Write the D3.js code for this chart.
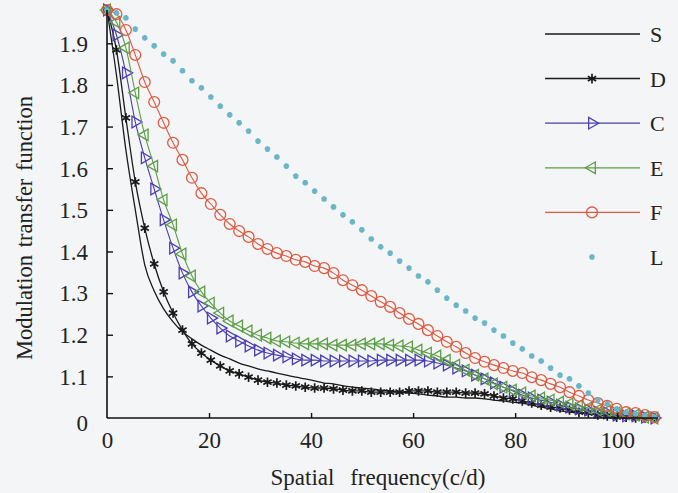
<!DOCTYPE html>
<html>
<head>
<meta charset="utf-8">
<script src="https://cdn.jsdelivr.net/npm/d3@7/dist/d3.min.js"></script>
<style>
  html, body { margin: 0; padding: 0; background: #f4f5f7; }
  svg { display: block; }
  text { font-family: "Liberation Serif", "Times New Roman", serif; fill: #222; }
</style>
</head>
<body>
<svg id="chart" width="678" height="493"></svg>
<script>
// ---- data ----
const freq = [0, 1.85, 3.7, 5.55, 7.4, 9.25, 11.1, 12.95, 14.8, 16.65,
  18.5, 20.35, 22.2, 24.05, 25.9, 27.75, 29.6, 31.45, 33.3, 35.15,
  37, 38.85, 40.7, 42.55, 44.4, 46.25, 48.1, 49.95, 51.8, 53.65,
  55.5, 57.35, 59.2, 61.05, 62.9, 64.75, 66.6, 68.45, 70.3, 72.15,
  74, 75.85, 77.7, 79.55, 81.4, 83.25, 85.1, 86.95, 88.8, 90.65,
  92.5, 94.35, 96.2, 98.05, 99.9, 101.75, 103.6, 105.45, 107.3];

const seriesS = [1.980,1.824,1.644,1.500,1.368,1.305,1.262,1.231,1.207,1.190,
  1.175,1.163,1.151,1.142,1.132,1.125,1.118,1.113,1.108,1.103,
  1.098,1.094,1.089,1.084,1.082,1.077,1.074,1.072,1.070,1.067,
  1.065,1.062,1.060,1.058,1.055,1.053,1.050,1.050,1.048,1.048,
  1.046,1.043,1.041,1.038,1.036,1.031,1.026,1.022,1.017,1.014,
  1.012,1.010,1.007,1.005,1.002,1.002,1.000,1.000,1.000];

const seriesD = [1.980,1.884,1.721,1.567,1.456,1.370,1.303,1.252,1.211,1.178,
  1.156,1.139,1.125,1.113,1.106,1.098,1.091,1.086,1.084,1.079,
  1.077,1.074,1.072,1.072,1.070,1.067,1.065,1.065,1.062,1.062,
  1.062,1.062,1.065,1.065,1.065,1.062,1.062,1.062,1.060,1.060,
  1.058,1.053,1.048,1.046,1.041,1.036,1.031,1.026,1.024,1.019,
  1.014,1.012,1.007,1.005,1.002,1.002,1.000,1.000,1.000];

const seriesC = [1.980,1.920,1.829,1.711,1.625,1.550,1.476,1.408,1.348,1.303,
  1.269,1.240,1.216,1.197,1.185,1.173,1.163,1.156,1.151,1.147,
  1.142,1.139,1.139,1.137,1.137,1.137,1.137,1.137,1.137,1.139,
  1.139,1.139,1.139,1.139,1.137,1.132,1.127,1.120,1.113,1.103,
  1.094,1.084,1.074,1.065,1.055,1.048,1.043,1.038,1.031,1.026,
  1.022,1.019,1.014,1.012,1.007,1.005,1.005,1.002,1.000];

const seriesE = [1.980,1.951,1.889,1.781,1.680,1.605,1.524,1.464,1.394,1.341,
  1.303,1.276,1.252,1.233,1.221,1.209,1.199,1.192,1.185,1.183,
  1.180,1.178,1.178,1.178,1.175,1.175,1.175,1.178,1.178,1.178,
  1.175,1.173,1.171,1.163,1.156,1.149,1.139,1.127,1.115,1.103,
  1.094,1.082,1.074,1.067,1.060,1.053,1.048,1.043,1.038,1.034,
  1.029,1.024,1.019,1.017,1.012,1.010,1.007,1.002,1.000];

const seriesF = [1.980,1.970,1.932,1.872,1.807,1.759,1.709,1.661,1.620,1.577,
  1.540,1.514,1.488,1.466,1.449,1.435,1.418,1.406,1.396,1.389,
  1.380,1.375,1.365,1.360,1.348,1.331,1.319,1.307,1.293,1.279,
  1.267,1.252,1.238,1.226,1.211,1.197,1.183,1.171,1.156,1.144,
  1.135,1.127,1.120,1.113,1.108,1.098,1.091,1.082,1.074,1.062,
  1.053,1.043,1.036,1.029,1.022,1.014,1.012,1.007,1.002];

const seriesL = [1.980,1.973,1.961,1.934,1.913,1.894,1.874,1.858,1.834,1.810,
  1.793,1.771,1.749,1.728,1.709,1.689,1.665,1.646,1.627,1.605,
  1.581,1.565,1.545,1.526,1.507,1.488,1.471,1.452,1.430,1.411,
  1.396,1.377,1.360,1.341,1.327,1.307,1.288,1.271,1.257,1.240,
  1.228,1.211,1.197,1.180,1.166,1.149,1.137,1.120,1.103,1.094,
  1.077,1.060,1.043,1.034,1.022,1.014,1.010,1.005,1.002];

const seriesNames = ["S", "D", "C", "E", "F", "L"];
const xTickValues = [0, 20, 40, 60, 80, 100];
const yTickValues = [1.0, 1.1, 1.2, 1.3, 1.4, 1.5, 1.6, 1.7, 1.8, 1.9];
const yTickLabels = ["0", "1.1", "1.2", "1.3", "1.4", "1.5", "1.6", "1.7", "1.8", "1.9"];
const xTitle = "Spatial frequency(c/d)";
const yTitle = "Modulation transfer function";

// ---- styles ----
const FONT = '"Liberation Serif", "Times New Roman", serif';
const styles = {
  S: { color: "#1a1a1a", width: 1.3, line: true, marker: null },
  D: { color: "#1a1a1a", width: 1.3, line: true, marker: "asterisk" },
  C: { color: "#4a3eb0", width: 1.1, line: true, marker: "triRight" },
  E: { color: "#5c9e45", width: 1.1, line: true, marker: "triLeft" },
  F: { color: "#de5a40", width: 1.1, line: true, marker: "circle" },
  L: { color: "#6bb6c6", width: 1.0, line: false, marker: "dot" }
};
const valuesByName = { S: seriesS, D: seriesD, C: seriesC, E: seriesE, F: seriesF, L: seriesL };

const svg = d3.select("#chart");
const x = d3.scaleLinear().domain([0, 108]).range([107, 658]);
const y = d3.scaleLinear().domain([1.0, 1.98]).range([418, 10]);

function markerPath(kind) {
  if (kind === "asterisk") return d3.symbol(d3.symbolAsterisk, 64)();
  if (kind === "triRight" || kind === "triLeft") return d3.symbol(d3.symbolTriangle, 58)();
  if (kind === "circle") return d3.symbol(d3.symbolCircle, 92)();
  if (kind === "dot") return d3.symbol(d3.symbolAsterisk, 22)();
  return null;
}
function markerTransform(kind, px, py) {
  let t = `translate(${px},${py})`;
  if (kind === "triRight") t += " rotate(90)";
  if (kind === "triLeft") t += " rotate(-90)";
  return t;
}
function drawMarker(g, kind, color, px, py) {
  const p = g.append("path")
    .attr("d", markerPath(kind))
    .attr("transform", markerTransform(kind, px, py))
    .attr("fill", "none")
    .attr("stroke", color);
  if (kind === "asterisk") p.attr("stroke-width", 1.7);
  else if (kind === "dot") p.attr("stroke-width", 2.4);
  else p.attr("stroke-width", 1.3);
}

// ---- series ----
const plot = svg.append("g");
seriesNames.forEach(name => {
  const st = styles[name];
  const pts = freq.map((f, i) => [f, valuesByName[name][i]]);
  const g = plot.append("g");
  if (st.line) {
    g.append("path")
      .attr("d", d3.line().x(d => x(d[0])).y(d => y(d[1])).curve(d3.curveMonotoneX)(pts))
      .attr("fill", "none")
      .attr("stroke", st.color)
      .attr("stroke-width", st.width);
  }
  if (st.marker) {
    pts.forEach(d => drawMarker(g, st.marker, st.color, x(d[0]), y(d[1])));
  }
});

// ---- axes ----
const xAxis = d3.axisBottom(x).tickValues(xTickValues).tickSize(-5).tickFormat(d3.format("d"));
const gx = svg.append("g").attr("transform", `translate(0,${y(1.0)})`).call(xAxis);
gx.attr("font-family", null).attr("font-size", null);
gx.select(".domain").attr("d", `M${x(0)},0H${x(108)}`).attr("stroke", "#111").attr("stroke-width", 1.6);
gx.selectAll(".tick line").attr("stroke", "#111").attr("stroke-width", 1.4);
gx.selectAll(".tick").filter(d => d === 0).select("line").remove();
gx.selectAll(".tick text")
  .attr("y", 14).attr("dy", "0.71em")
  .style("font-size", "23px").style("font-family", FONT).attr("fill", "#222");

const yAxis = d3.axisLeft(y).tickValues(yTickValues).tickSize(-6)
  .tickFormat((d, i) => yTickLabels[i]);
const gy = svg.append("g").attr("transform", `translate(${x(0)},0)`).call(yAxis);
gy.attr("font-family", null).attr("font-size", null);
gy.select(".domain").attr("d", `M0,${y(1.0)}V${y(1.98)}`).attr("stroke", "#111").attr("stroke-width", 1.6);
gy.selectAll(".tick line").attr("stroke", "#111").attr("stroke-width", 1.4);
gy.selectAll(".tick").filter(d => d === 1.0).select("line").remove();
gy.selectAll(".tick text")
  .attr("x", -19)
  .attr("dy", (d) => d === 1.0 ? "0.55em" : "0.34em")
  .style("font-size", "23px").style("font-family", FONT).attr("fill", "#222");

// ---- titles ----
svg.append("text")
  .attr("x", 378).attr("y", 485)
  .attr("text-anchor", "middle")
  .style("font-size", "23px").style("font-family", FONT).style("word-spacing", "10px")
  .text(xTitle);
svg.append("text")
  .attr("transform", "translate(32,228) rotate(-90)")
  .attr("text-anchor", "middle")
  .style("font-size", "22.5px").style("font-family", FONT).style("word-spacing", "2px")
  .text(yTitle);

// ---- legend ----
const legendY = d3.scalePoint().domain(seriesNames).range([34, 257]);
const lg = svg.append("g");
seriesNames.forEach(name => {
  const st = styles[name];
  const ly = legendY(name);
  if (st.line) {
    lg.append("line").attr("x1", 545).attr("x2", 640).attr("y1", ly).attr("y2", ly)
      .attr("stroke", st.color).attr("stroke-width", st.width + 0.2);
  }
  if (st.marker) drawMarker(lg, st.marker, st.color, 592, ly);
  lg.append("text").attr("x", 650).attr("y", ly).attr("dy", "0.36em")
    .style("font-size", "22px").style("font-family", FONT).text(name);
});
</script>
</body>
</html>
